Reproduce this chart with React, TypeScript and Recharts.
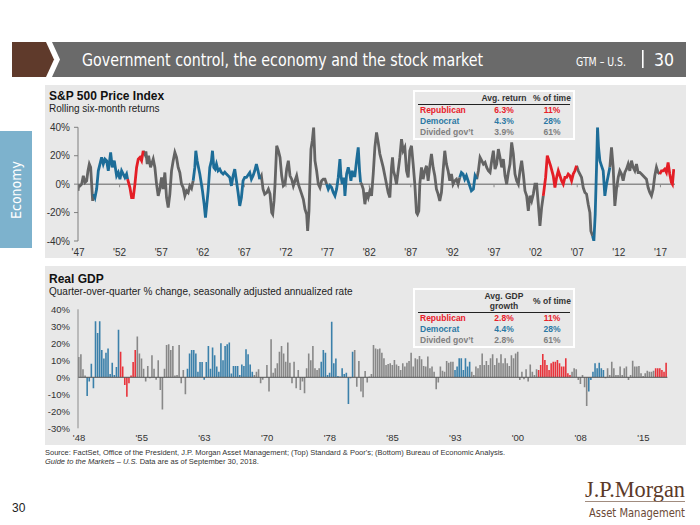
import React from 'react';
import { LineChart, Line, XAxis, YAxis, ReferenceLine, BarChart, Bar, Cell } from 'recharts';

type Party = 'R' | 'D' | 'G';

// ---------- party control periods (start inclusive, end exclusive) ----------
const controlPeriods: [number, number, Party][] = [
  [1947, 1949, 'G'], [1949, 1953, 'D'], [1953, 1955, 'R'], [1955, 1961, 'G'],
  [1961, 1969, 'D'], [1969, 1977, 'G'], [1977, 1981, 'D'], [1981, 1993, 'G'],
  [1993, 1995, 'D'], [1995, 2003, 'G'], [2003, 2007, 'R'], [2007, 2009, 'G'],
  [2009, 2011, 'D'], [2011, 2017, 'G'], [2017, 2019, 'R'],
];

// ---------- S&P 500 rolling six-month returns [year, %] ----------
const sp1947to1960: [number, number][] = [
  [1947.0, -4.7], [1947.08, -1], [1947.24, -1.2], [1947.44, 0], [1947.64, 5.9], [1947.84, 1.2],
  [1948.04, 2.4], [1948.2, 9.4], [1948.36, 14.1], [1948.52, 11.8], [1948.64, 0], [1948.76, -11.8], [1948.88, -7],
  [1949.04, -9.4], [1949.24, -3.5], [1949.44, 9.4], [1949.64, 14.1], [1949.84, 18.8], [1950.04, 14.1],
  [1950.24, 17.6], [1950.44, 16.5], [1950.64, 9.4], [1950.8, 16.5], [1950.92, 22.3], [1951.12, 11.8],
  [1951.36, 16.5], [1951.64, 5.9], [1951.84, 8.2], [1952.04, 3.5], [1952.24, 9.4], [1952.44, 7.1],
  [1952.64, 4.7], [1952.84, 7.1], [1952.96, 3.5],
  [1953.24, -2.4], [1953.44, -9.4], [1953.64, -9.4], [1953.84, 0], [1954.04, 11.8], [1954.24, 17.6],
  [1954.44, 18.8], [1954.64, 16.5], [1954.84, 23.5],
  [1955.04, 21], [1955.16, 23], [1955.32, 14.1], [1955.48, 20], [1955.72, 11.8], [1956.04, 17.6],
  [1956.24, 11.8], [1956.44, 0], [1956.64, -8.2], [1956.84, -3.5], [1957.04, 4.7], [1957.24, -3.5],
  [1957.44, 8.2], [1957.64, -9.4], [1957.84, -16.5], [1958.04, -7], [1958.24, 9.4], [1958.44, 16.5],
  [1958.64, 22.3], [1958.84, 18.8], [1959.04, 11.8], [1959.24, 8.2], [1959.44, 0], [1959.64, -2.4],
  [1959.84, -8.2], [1960.04, -4.7], [1960.24, -6], [1960.44, -1.2], [1960.64, -3], [1960.84, 2.4],
];

const sp1961to1976: [number, number][] = [
  [1961.04, 11.8], [1961.16, 23.5], [1961.32, 16.5], [1961.64, 7.1], [1961.96, -4.7], [1962.16, -14.1],
  [1962.32, -23.5], [1962.44, -16.5], [1962.64, -4.7], [1962.84, 11.8], [1963.04, 16.5], [1963.16, 23.5],
  [1963.32, 11.8], [1963.48, 10.6], [1963.64, 14.1], [1963.84, 9.4], [1964.04, 10.6], [1964.24, 8.2],
  [1964.44, 7.1], [1964.64, 8.5], [1964.84, 7.1], [1965.04, 6], [1965.24, 4.7], [1965.44, -1.2],
  [1965.64, 5.9], [1965.84, 10.6], [1966.04, 2.4], [1966.24, -5.9], [1966.44, -15.3], [1966.64, -9.4],
  [1966.84, 2.4], [1967.04, 4.7], [1967.24, 4.7], [1967.44, 6.5], [1967.64, 8.2], [1967.84, 3.5],
  [1968.04, 6], [1968.24, 9.4], [1968.44, 14.1], [1968.64, 9.4], [1968.84, 3.5], [1969.04, 5.9],
  [1969.24, -3.5], [1969.44, -7], [1969.68, -5.9], [1969.88, -3.5], [1970.08, -7], [1970.28, -20],
  [1970.4, -21.2], [1970.56, -11.8], [1970.68, 0], [1970.88, 27], [1971.08, 23.5], [1971.28, 18.8],
  [1971.48, 5.9], [1971.68, -1.2], [1971.88, 0], [1972.08, 10.6], [1972.28, 16.5], [1972.48, 5.9],
  [1972.68, 3.5], [1972.88, -1.2], [1973.08, 2.4], [1973.28, 5.9], [1973.48, 0], [1973.68, -3.5],
  [1973.88, -7], [1974.08, -10.6], [1974.28, -17.6], [1974.48, -21.2], [1974.6, -32.9], [1974.76, -18.8],
  [1974.88, 4.7], [1975.0, 24.7], [1975.16, 30.6], [1975.32, 40], [1975.48, 16.5], [1975.68, 9.4],
  [1975.88, 0], [1976.08, -2.4], [1976.28, 2.4], [1976.48, 3.5], [1976.68, 3.5], [1976.88, 0],
];

const sp1977to1992: [number, number][] = [
  [1977.08, -3.5], [1977.28, -1], [1977.48, -2.4], [1977.68, -5.9], [1977.88, -8.2], [1978.08, -3.5],
  [1978.28, 4.7], [1978.48, 17.6], [1978.6, 5.9], [1978.76, 0], [1978.96, 4.7], [1979.08, -8.2],
  [1979.28, 7.1], [1979.48, 11.8], [1979.68, 7.1], [1979.8, 2.4], [1979.96, 9.4], [1980.08, 5.9],
  [1980.28, 5.9], [1980.48, 16.5], [1980.68, 25.9], [1980.84, 9.4], [1980.96, 1.2],
  [1981.08, 0], [1981.28, -3.5], [1981.48, -14.1], [1981.68, -5.9], [1981.88, -9.4], [1982.08, -4.7],
  [1982.28, -8.2], [1982.48, 7.1], [1982.68, 25.9], [1982.88, 36.4], [1983.08, 29.4], [1983.28, 21.2],
  [1983.48, 16.5], [1983.68, 11.8], [1983.88, 5.9], [1984.08, 0], [1984.28, -5.9], [1984.48, -9.4],
  [1984.68, 11.8], [1984.8, 18.8], [1984.92, 9.4], [1985.08, 5.9], [1985.28, 0], [1985.48, 9.4],
  [1985.68, 18.8], [1985.88, 31.7], [1986.08, 23.5], [1986.28, 25.9], [1986.48, 9.4], [1986.68, 4.7],
  [1986.88, 23.5], [1987.08, 27], [1987.28, 14.1], [1987.48, 0], [1987.68, -20], [1987.8, -21.2],
  [1987.96, -18.8], [1988.08, 0], [1988.28, 11.8], [1988.48, 3.5], [1988.68, 9.4], [1988.88, 12.9],
  [1989.08, 2.4], [1989.28, 12.9], [1989.48, 21.2], [1989.68, 11.8], [1989.88, 5.9], [1990.08, -3.5],
  [1990.28, -7], [1990.48, -11.8], [1990.68, -5.9], [1990.88, 9.4], [1991.08, 23.5], [1991.28, 14.1],
  [1991.48, 9.4], [1991.68, 2.4], [1991.88, 7.1], [1992.08, 0], [1992.28, 2.4], [1992.48, 3.5],
  [1992.68, 0], [1992.88, 4.7],
];

const sp1993to2008: [number, number][] = [
  [1993.08, 8.2], [1993.28, 7.1], [1993.48, 3.5], [1993.68, 5.9], [1993.88, 2.4], [1994.08, -1.2],
  [1994.28, -4.7], [1994.52, -3.5], [1994.72, 5.9], [1994.92, 3.5],
  [1995.12, 9.4], [1995.32, 18.8], [1995.52, 16.5], [1995.72, 14.1], [1995.92, 15.3], [1996.12, 11.8],
  [1996.32, 9.4], [1996.52, 8.2], [1996.72, 16.5], [1996.92, 23.5], [1997.12, 10.6], [1997.32, 14.1],
  [1997.52, 24.7], [1997.72, 18.8], [1997.92, 11.8], [1998.12, 17.6], [1998.32, 5.9], [1998.52, 0],
  [1998.72, 8.2], [1998.92, 14.1], [1999.12, 29.4], [1999.32, 21.2], [1999.52, 7.1], [1999.72, 2.4],
  [1999.92, 0], [2000.12, 9.4], [2000.32, 16.5], [2000.52, 7.1], [2000.72, -4.7], [2000.92, -8.2],
  [2001.12, -18.8], [2001.32, -8.2], [2001.52, -11.8], [2001.72, -7], [2001.92, 0], [2002.12, 0],
  [2002.32, -14.1], [2002.52, -29.4], [2002.72, -16.5], [2002.92, -8.2],
  [2003.2, 4.7], [2003.4, 20], [2003.6, 16.5], [2003.8, 12.9], [2003.96, 9.4], [2004.12, 5.9],
  [2004.32, -2.4], [2004.52, 4.7], [2004.72, 9.4], [2004.92, 5.9], [2005.12, 2.4], [2005.32, 0],
  [2005.52, 4.7], [2005.72, 4.7], [2005.92, 7.1], [2006.12, 5.9], [2006.32, 2.4], [2006.52, 7.1],
  [2006.72, 9.4], [2006.92, 12.9],
  [2007.12, 9.4], [2007.32, 7.1], [2007.52, 4.7], [2007.72, -2.4], [2007.92, -5.9], [2008.12, -7],
  [2008.32, -14.1], [2008.52, -20], [2008.64, -32.9], [2008.84, -36.4],
];

const sp2009to2018: [number, number][] = [
  [2009.0, -40], [2009.16, -21.2], [2009.32, 11.8], [2009.44, 40], [2009.56, 25.9], [2009.72, 16.5],
  [2009.92, 12.9], [2010.12, 9.4], [2010.32, -8.2], [2010.52, 0], [2010.72, 5.9], [2010.92, 11.8],
  [2011.12, 25.9], [2011.32, 11.8], [2011.52, -15.3], [2011.72, -3.5], [2011.92, 4.7], [2012.12, 9.4],
  [2012.32, 7.1], [2012.52, 2.4], [2012.72, 8.2], [2012.92, 10.6], [2013.12, 14.1], [2013.32, 9.4],
  [2013.52, 16.5], [2013.72, 11.8], [2013.92, 9.4], [2014.12, 14.1], [2014.32, 8.2], [2014.52, 8.2],
  [2014.72, 7.1], [2014.92, 5.9], [2015.12, 4.7], [2015.32, 3.5], [2015.52, -2.4], [2015.72, -5.9],
  [2015.92, -8.2], [2016.12, -3.5], [2016.32, 5.9], [2016.52, 11.8], [2016.72, 8.2], [2016.92, 7.1],
  [2017.12, 9.4], [2017.32, 9.4], [2017.52, 10.6], [2017.72, 8.2], [2017.92, 15.3], [2018.12, 7.1],
  [2018.32, 1.2], [2018.44, 0], [2018.6, 10.6],
];

const spTicks = [1947, 1952, 1957, 1962, 1967, 1972, 1977, 1982, 1987, 1992, 1997, 2002, 2007, 2012, 2017];
const spYTicks = [-40, -20, 0, 20, 40];

// ---------- Real GDP, quarterly % change (SAAR), by control period ----------
const gdpG1948 = [12, 13.5, 4.7, 1];
const gdpD1949 = [-11, -2.5, 8, -6.5, 33, 26, 33, 16, 11, 14.5, 17, 2, 8.6, 1.4, 6, 28];
const gdpR1953 = [15, 6.3, -4.5, -11.4, -3.5, 1, 9, 16];
const gdpG1955 = [24, 14, 11, 5, -2.5, 6.7, -0.5, 13, 5, -1.5, 10, -7.5, -19, 5, 19, 19.4, 16, 18.4, 1, 1.4, 19, -3.5, 4.3, -10];
const gdpD1961 = [5, 14, 16, 16, 14, 3.3, 9, 9, -1.5, 9, 18.4, 5, 17.5, 13, 6.3, 3.3, 20, 10, 18.4, 19.4, 20.4, 2.3, 6.7, 6.7, 6.7, 1.4, 7.6, 6.7, 16.5, 13.5, 7.6, 3.3];
const gdpG1969 = [1.4, 3.3, 4.7, -3.5, -1.5, 0, 7.3, -8.4, 22.4, 2.7, 5.3, 8.2, 15, 18.4, 14, 9.2, 20.4, 8.6, -3.5, 9.2, -6.5, 4.3, -7.5, -2.5, -9.4, 5.3, 14, 10, 18.4, 5.3, 4.3, 5.3];
const gdpD1977 = [9.2, 16, 14.5, 1.4, 2.7, 32.7, 8.2, 11, 0.8, 0.4, 5.3, 2, 2.7, -15.7, -0.6, 15];
const gdpG1981 = [16, -5.5, 9.6, -8.4, -11.8, 3.7, -3.1, 0.4, 2, 19, 17, 16.5, 17, 14.5, 11.2, 7.3, 7.8, 8.2, 7.3, 10.2, 7.6, 6.7, 4.3, 8.2, 6.3, 8.6, 9.6, 14.5, 6.3, 11.2, 10.6, 12.5, 10.6, 6.7, 6.3, 12.2, 5.3, 6.3, 3.3, -7, -3.1, 6.3, 3.9, 3.3, 9.6, 8.6, 9.2, 9.2];
const gdpD1993 = [4.3, 6.3, 11.2, 11.2, 4.3, 11.2, 6.3, 9.2];
const gdpG1995 = [3.3, 1.4, 6.3, 5.3, 7.3, 14, 7.3, 9.6, 7.3, 11.2, 13.5, 7.3, 11.2, 8.6, 13.5, 8.2, 11.2, 8.2, 6.7, 13, 11.2, 14, 15, -1.6, 3.3, -1.2, 4.7, -2.5, 7.6, 3.3, 1.4, 4.7];
const gdpR2003 = [4.3, 7.3, 13.7, 10.2, 7.3, 4.3, 8.2, 9.2, 9.2, 10.2, 8.2, 6.3, 6.3, 11.2, 2.4, 1.4];
const gdpG2007 = [3.3, 5.3, 4.7, -1.6, -3.9, 1.4, -5.9, -16.9];
const gdpD2009 = [-8.4, -1.6, 3.3, 8.2, 5.3, 8.6, 5.3, 4.3];
const gdpG2011 = [-0.6, 5.3, 1.4, 9.2, 5.3, 1.4, 1.4, 6.3, 1.4, 5.3, 6.3, -1.6, 1.4, 9.8, 6.3, 6.3, 6.7, 2.4, 0.8, 2.4, 3.9, 3.3, 3.3, 3.9];
const gdpR2017 = [5.3, 5.3, 5.3, 4.3, 3.3, 8.6];

const gdpSegments: [Party, number[]][] = [
  ['G', gdpG1948], ['D', gdpD1949], ['R', gdpR1953], ['G', gdpG1955], ['D', gdpD1961],
  ['G', gdpG1969], ['D', gdpD1977], ['G', gdpG1981], ['D', gdpD1993], ['G', gdpG1995],
  ['R', gdpR2003], ['G', gdpG2007], ['D', gdpD2009], ['G', gdpG2011], ['R', gdpR2017],
];
const gdpStartYear = 1948;
const gdpYTicks = [-30, -20, -10, 0, 10, 20, 30, 40];

// ---------- tables ----------
const spTable: [string, string, string, Party][] = [
  ['Republican', '6.3%', '11%', 'R'],
  ['Democrat', '4.3%', '28%', 'D'],
  ['Divided gov\u2019t', '3.9%', '61%', 'G'],
];
const gdpTable: [string, string, string, Party][] = [
  ['Republican', '2.8%', '11%', 'R'],
  ['Democrat', '4.4%', '28%', 'D'],
  ['Divided gov\u2019t', '2.8%', '61%', 'G'],
];

// ---------- styling ----------
const lineColors: Record<Party, string> = { R: '#e41e26', D: '#1d6d98', G: '#646464' };
const barColors: Record<Party, string> = { R: '#e8333b', D: '#3b80aa', G: '#888888' };
const textColors: Record<Party, string> = { R: '#e8202a', D: '#2c78a4', G: '#7f7f7f' };
const FONT = "'Liberation Sans', Arial, sans-serif";
const PANEL = '#e8e8e8';

function partyOf(year: number): Party {
  for (const [s, e, p] of controlPeriods) if (year >= s && year < e) return p;
  return 'G';
}

const spAll = [...sp1947to1960, ...sp1961to1976, ...sp1977to1992, ...sp1993to2008, ...sp2009to2018];
const spRows: Record<string, number | null>[] = spAll.map(([t]) => ({ t, R: null, D: null, G: null }));
spAll.forEach(([t, v], i) => {
  const p = partyOf(t);
  spRows[i][p] = v;
  if (i > 0) {
    const prev = partyOf(spAll[i - 1][0]);
    if (prev !== p) spRows[i - 1][p] = spAll[i - 1][1];
  }
});

const gdpRows: { idx: number; v: number; party: Party }[] = [];
gdpSegments.forEach(([party, vals]) => {
  vals.forEach((v) => gdpRows.push({ idx: gdpRows.length, v, party }));
});

const Table = ({ rows, top, gdp }: { rows: [string, string, string, Party][]; top: number; gdp?: boolean }) => {
  const headH = gdp ? 22 : 12;
  return (
    <div style={{ position: 'absolute', left: 413, top, width: 162, border: '2px solid #fff', background: PANEL, fontFamily: FONT, fontSize: 8.5, fontWeight: 'bold', boxSizing: 'border-box' }}>
      <div style={{ position: 'relative', height: headH, margin: '0 3px', borderBottom: '1.5px solid #222', color: '#333' }}>
        <div style={{ position: 'absolute', left: 60, width: 52, textAlign: 'center', bottom: 1, lineHeight: '10px' }}>
          {gdp ? <>Avg. GDP<br />growth</> : 'Avg. return'}
        </div>
        <div style={{ position: 'absolute', left: 110, width: 48, textAlign: 'center', bottom: gdp ? 6 : 1, lineHeight: '10px' }}>% of time</div>
      </div>
      {rows.map(([name, avg, pct, p]) => (
        <div key={name} style={{ position: 'relative', height: 11, lineHeight: '11px', color: textColors[p], margin: '0 3px' }}>
          <span style={{ position: 'absolute', left: 2 }}>{name}</span>
          <span style={{ position: 'absolute', left: 60, width: 52, textAlign: 'center' }}>{avg}</span>
          <span style={{ position: 'absolute', left: 110, width: 48, textAlign: 'center' }}>{pct}</span>
        </div>
      ))}
    </div>
  );
};

export default function App() {
  return (
    <div style={{ position: 'absolute', left: 0, top: 0, width: 700, height: 525, background: '#fff', overflow: 'hidden', fontFamily: FONT }}>
      {/* header band */}
      <svg width={700} height={90} style={{ position: 'absolute', left: 0, top: 0 }}>
        <polygon points="12,42 46,42 54,59.5 46,77 12,77" fill="#5f3a2b" />
        <polygon points="52,42 686,42 686,77 52,77 60,59.5" fill="#6a6a6a" />
        <text x={82} y={66} fill="#fff" fontSize={17.5} fontFamily="'DejaVu Sans Condensed', 'Liberation Sans Narrow', sans-serif" textLength={401} lengthAdjust="spacingAndGlyphs">
          Government control, the economy and the stock market
        </text>
        <text x={576} y={66} fill="#fff" fontSize={12.5} fontFamily="'DejaVu Sans Condensed', sans-serif" textLength={50} lengthAdjust="spacingAndGlyphs">GTM – U.S.</text>
        <rect x={642} y={50} width={1.6} height={18} fill="#fff" />
        <text x={654} y={66} fill="#fff" fontSize={17.5} fontFamily="'DejaVu Sans Condensed', sans-serif">30</text>
      </svg>

      {/* side tab */}
      <div style={{ position: 'absolute', left: 0, top: 131, width: 32, height: 117, background: '#7db2cd' }} />
      <svg width={32} height={117} style={{ position: 'absolute', left: 0, top: 131 }}>
        <text transform="translate(20.5,59) rotate(-90)" textAnchor="middle" fill="#fff" fontSize={14} fontFamily="'DejaVu Sans Condensed', sans-serif">Economy</text>
      </svg>

      {/* panels */}
      <div style={{ position: 'absolute', left: 45, top: 85, width: 641, height: 173, background: PANEL }} />
      <div style={{ position: 'absolute', left: 45, top: 266, width: 641, height: 179, background: PANEL }} />

      {/* top titles */}
      <div style={{ position: 'absolute', left: 49, top: 89, fontSize: 12, fontWeight: 'bold', color: '#111', lineHeight: '14px' }}>S&amp;P 500 Price Index</div>
      <div style={{ position: 'absolute', left: 49, top: 103, fontSize: 10, color: '#222', lineHeight: '12px' }}>Rolling six-month returns</div>

      {/* top chart */}
      <div style={{ position: 'absolute', left: 0, top: 0 }}>
        <LineChart width={700} height={262} data={spRows} margin={{ top: 127.3, right: 25, bottom: 7, left: 38 }}>
          <XAxis dataKey="t" type="number" domain={[1947, 2018.75]} ticks={spTicks} allowDataOverflow
            tickFormatter={(y: number) => `'${String(y).slice(2)}`} axisLine={false} tickLine={false} height={14}
            tick={{ fontSize: 10, fill: '#333', fontFamily: FONT }} interval={0} />
          <YAxis type="number" domain={[-40, 40]} ticks={spYTicks} allowDataOverflow width={40}
            tickFormatter={(v: number) => `${v}%`} axisLine={{ stroke: '#7f7f7f' }} tickLine={{ stroke: '#7f7f7f' }} tickSize={4} tickMargin={4}
            tick={{ fontSize: 10, fill: '#333', fontFamily: FONT }} />
          <ReferenceLine y={0} stroke="#8c8c8c" strokeWidth={1.5} />
          {spTicks.slice(1).map((y) => (
            <ReferenceLine key={y} segment={[{ x: y, y: 0 }, { x: y, y: -2.2 }]} stroke="#8c8c8c" strokeWidth={1} />
          ))}
          <Line dataKey="G" stroke={lineColors.G} strokeWidth={2.8} dot={false} isAnimationActive={false} connectNulls={false} />
          <Line dataKey="D" stroke={lineColors.D} strokeWidth={2.8} dot={false} isAnimationActive={false} connectNulls={false} />
          <Line dataKey="R" stroke={lineColors.R} strokeWidth={2.8} dot={false} isAnimationActive={false} connectNulls={false} />
        </LineChart>
      </div>

      <Table rows={spTable} top={90} />

      {/* bottom titles */}
      <div style={{ position: 'absolute', left: 49, top: 272, fontSize: 12, fontWeight: 'bold', color: '#111', lineHeight: '14px' }}>Real GDP</div>
      <div style={{ position: 'absolute', left: 49, top: 286, fontSize: 10, color: '#222', lineHeight: '12px' }}>Quarter-over-quarter % change, seasonally adjusted annualized rate</div>

      {/* bottom chart */}
      <div style={{ position: 'absolute', left: 0, top: 262 }}>
        <BarChart width={700} height={190} data={gdpRows} margin={{ top: 47.3, right: 32.6, bottom: 9.7, left: 38 }} barCategoryGap={0}>
          <XAxis dataKey="idx" type="category" interval={29} axisLine={false} tickLine={false} height={14} tickMargin={0}
            tickFormatter={(i: number) => `'${String(Math.floor(gdpStartYear + i / 4)).slice(2)}`}
            tick={{ fontSize: 9.5, fill: '#333', fontFamily: FONT }} />
          <YAxis type="number" domain={[-30, 40]} ticks={gdpYTicks} allowDataOverflow width={40}
            tickFormatter={(v: number) => `${v}%`} axisLine={{ stroke: '#8c8c8c' }} tickLine={false}
            tick={{ fontSize: 9.5, fill: '#333', fontFamily: FONT }} />
          <Bar dataKey="v" isAnimationActive={false} barSize={1.6}>
            {gdpRows.map((r) => (
              <Cell key={r.idx} fill={barColors[r.party]} />
            ))}
          </Bar>
          <ReferenceLine y={0} stroke="#555" strokeWidth={1} />
        </BarChart>
      </div>

      <Table rows={gdpTable} top={288} gdp />

      {/* footer */}
      <div style={{ position: 'absolute', left: 45, top: 449, fontSize: 7.5, color: '#333', lineHeight: '8.5px' }}>
        Source: FactSet, Office of the President, J.P. Morgan Asset Management; (Top) Standard &amp; Poor&apos;s; (Bottom) Bureau of Economic Analysis.<br />
        <i>Guide to the Markets – U.S.</i> Data are as of September 30, 2018.
      </div>
      <div style={{ position: 'absolute', left: 12, top: 501, fontSize: 12, color: '#222' }}>30</div>
      <svg width={120} height={50} style={{ position: 'absolute', left: 575, top: 475 }}>
        <text x={10} y={22} fill="#5b3a29" fontSize={24} fontFamily="'Liberation Serif', 'DejaVu Serif', serif" textLength={100} lengthAdjust="spacingAndGlyphs">J.P.Morgan</text>
        <rect x={10} y={26} width={100} height={0.8} fill="#8a7060" />
        <text x={14} y={42} fill="#6b4a36" fontSize={12} fontFamily="'DejaVu Sans Condensed', sans-serif" textLength={96} lengthAdjust="spacingAndGlyphs">Asset Management</text>
      </svg>
    </div>
  );
}
